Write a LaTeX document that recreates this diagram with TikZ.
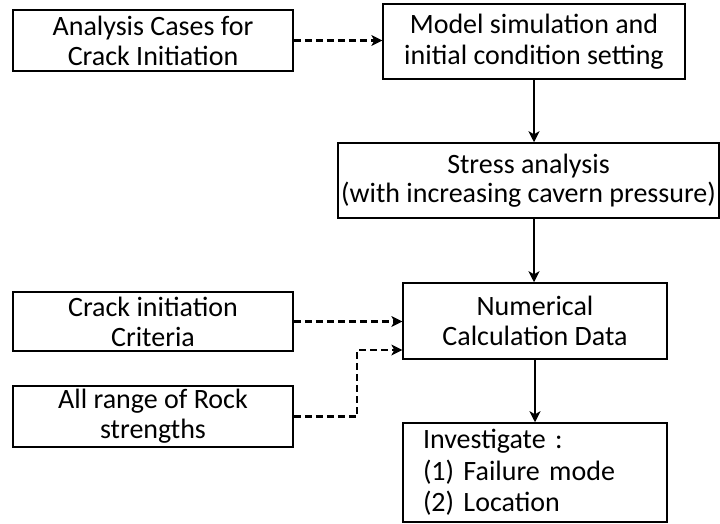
\documentclass[tikz,border=0pt]{standalone}
\usepackage{fontspec}
\setmainfont{Carlito}
\usetikzlibrary{arrows.meta}
\begin{document}
\begin{tikzpicture}[x=1pt,y=-1pt,
  box/.style={draw, line width=1.5pt, inner sep=0pt, align=center, font=\fontsize{28}{30}\selectfont},
  flow/.style={line width=2pt, -{Stealth[length=11pt,width=11pt,inset=3pt]}},
  dflow/.style={line width=2.6pt, dash pattern=on 7pt off 4pt, -{Stealth[length=11pt,width=11pt,inset=3pt,line width=0pt]}}]
\useasboundingbox (0,0) rectangle (720,524);
\node[box, minimum width=280pt, minimum height=61pt] (cases) at (153,40.5) {Analysis Cases for\\Crack Initiation};
\node[box, minimum width=302pt, minimum height=75pt, font=\fontsize{28}{31}\selectfont] (model) at (534,41.5) {Model simulation and\\initial condition setting};
\node[box, minimum width=381pt, minimum height=75pt, font=\fontsize{28}{29}\selectfont] (stress) at (528.5,180.5) {Stress analysis\\(with increasing cavern pressure)};
\node[box, minimum width=264pt, minimum height=76pt] (num) at (535,321) {Numerical\\Calculation Data};
\node[box, minimum width=280pt, minimum height=59pt] (crack) at (153,321.5) {Crack initiation\\Criteria};
\node[box, minimum width=280pt, minimum height=61pt] (rock) at (153,416.5) {All range of Rock\\strengths};
\node[box, text width=224pt, inner xsep=20pt, align=left, minimum height=99pt, font=\fontsize{28}{31.5}\selectfont] (inv) at (535,472.5) {Investigate :\\(1) Failure mode\\(2) Location};
\coordinate (j) at (357,350);
\draw[dflow] (cases.east) -- (cases.east -| model.west);
\draw[flow] (model.south) -- (model.south |- stress.north);
\draw[flow] (model.south |- stress.south) -- (model.south |- num.north);
\draw[flow] (num.south) -- (inv.north);
\draw[dflow] (crack.east) -- (crack.east -| num.west);
\draw[dflow] (rock.east) -| (j) -- (j -| num.west);
\end{tikzpicture}
\end{document}
